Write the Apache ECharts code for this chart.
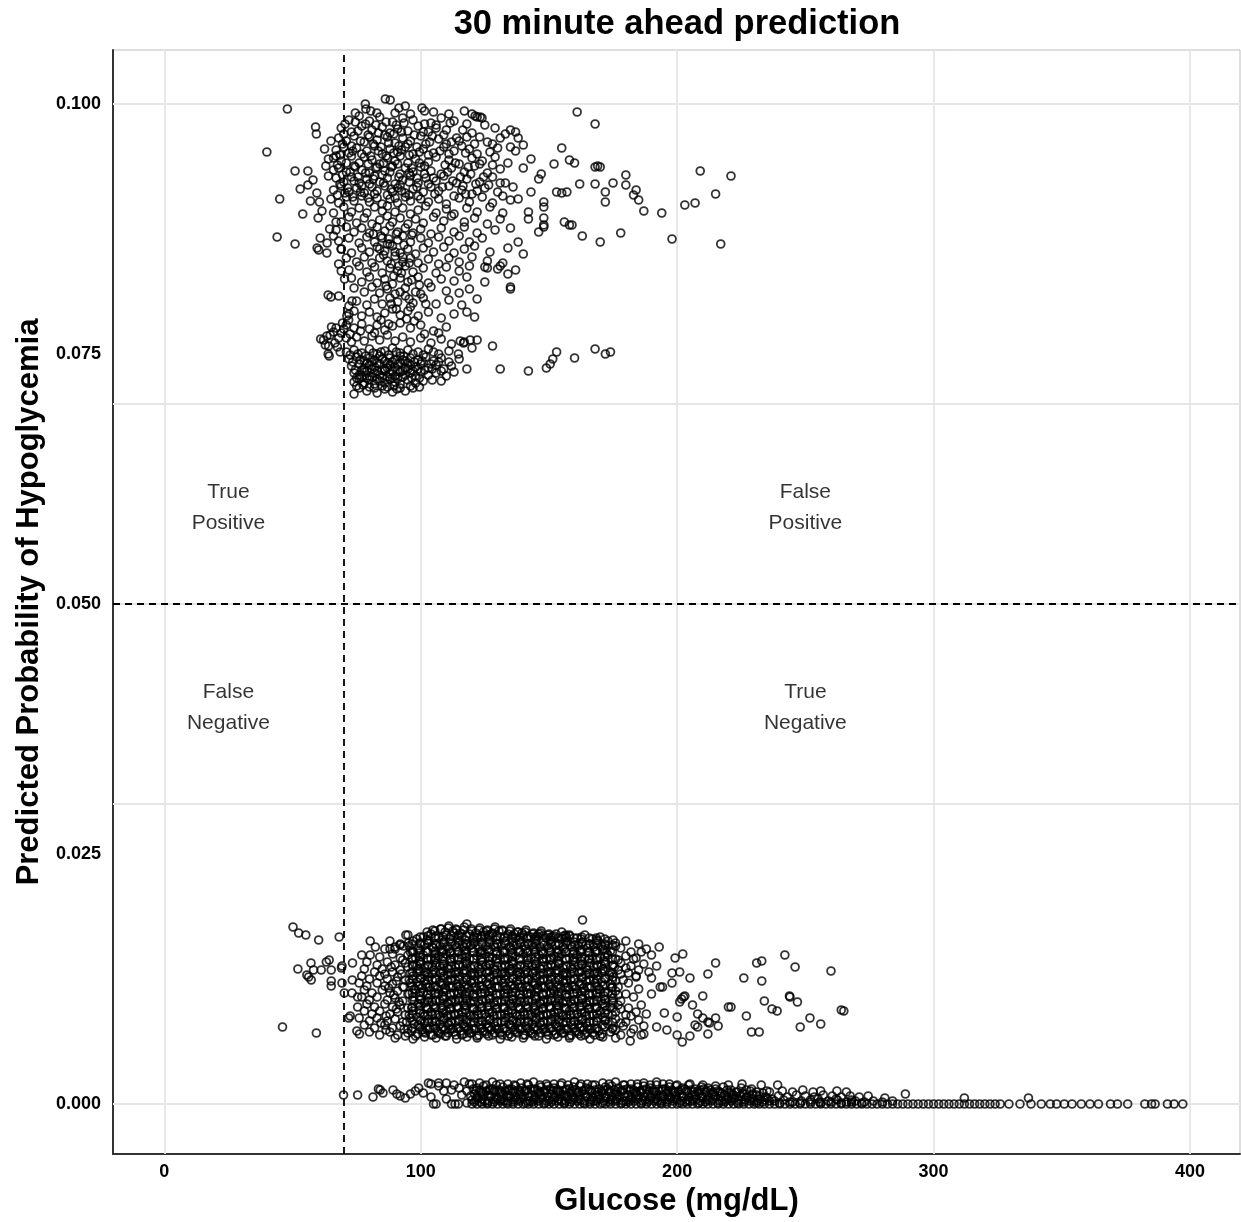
<!DOCTYPE html>
<html>
<head>
<meta charset="utf-8">
<script src="https://cdn.jsdelivr.net/npm/echarts@6/dist/echarts.min.js"></script>
<style>
  html, body { margin: 0; padding: 0; background: #fff; }
  #chart { width: 1241px; height: 1222px; }
</style>
</head>
<body>
<div id="chart"></div>
<script>
// axis ticks and reference lines
const xTicks = [0, 100, 200, 300, 400]
const yTicks = [0, 0.025, 0.05, 0.075, 0.1]
const glucoseCut = 70
const probCut = 0.05

// quadrant captions
const quadText = ['True\nPositive', 'False\nPositive', 'False\nNegative', 'True\nNegative']
const quadX = [25, 250, 25, 250]
const quadY = [0.05965, 0.05965, 0.03965, 0.03965]

// upper cluster (prob ~0.07 - 0.10), [glucose, probability]
const highPoints = [
[40,.0952],[48,.0995],[45,.0905],[44,.0867],[51,.0933],[56,.0933],[51,.0860],[56,.0919],[54,.0890],[59,.0977],[59.3,.0970],[58,.0924],[60,.0886],[60.8,.0866],[59.6,.0856],[63.5,.0861],[57,.0903],[53,.0915],[59.5,.0911],[61.5,.0893],[60.5,.0902],[63.9,.0809],[65,.0807],[63.4,.0851],[60.2,.0854],
[61,.0765],[62.1,.0764],[63.4,.0768],[64.7,.0769],[62.8,.0759],[64.1,.0758],[64.3,.0748],[66,.0772],[67,.0776],[68,.0766],[66.5,.0761],[69,.0771],[65.2,.0777],[67.5,.0757],[68.6,.0752],
[64,.0945],[63,.0938],[62.5,.0955],[65,.0963],[66,.0934],[67,.0948],[64,.0928],[65,.0905],[66,.0891],[64.5,.0875],[66,.0868],[67,.0882],[68,.0840],[69,.0855],[70.3,.0825],[68,.0808],[69,.0833],[71.2,.0788],[71.9,.0784],[73.2,.0803],[70,.0775],[69.5,.0781],[63.9,.0750],
[78.4,.1000],[78.6,.0995],[86.2,.1005],[88.1,.1004],[94,.0998],[100.5,.0996],[101.5,.0993],[82.9,.0991],[90,.0991],
[72,.0984],[76,.0988],[80,.0983],[84,.0987],[89,.0982],[93,.0986],[97,.0984],[104,.0981],[108,.0986],[113,.0983],[120,.0990],[122,.0987],
[69,.0976],[73,.0972],[77,.0978],[81,.0974],[85,.0977],[88,.0971],[91,.0975],[95,.0973],[99,.0978],[103,.0972],[106,.0976],[110,.0974],[116.4,.0974],[125,.0979],[133,.0970],[137,.0972],[168,.0980],[161,.0992],
[68,.0966],[71,.0963],[74,.0968],[78,.0962],[80,.0967],[83,.0964],[86,.0969],[90,.0961],[93,.0966],[96,.0963],[100,.0968],[102,.0960],[107,.0965],[112,.0962],[118,.0967],[121.2,.0988],[123.2,.0987],[123.9,.0986],[128,.0960],[135,.0974],[138,.0966],[140,.0959],
[67,.0954],[70,.0957],[72,.0951],[75,.0956],[79,.0953],[82,.0958],[85,.0950],[88,.0955],[91,.0952],[94,.0957],[97,.0950],[101,.0955],[105,.0951],[109,.0957],[113,.0953],[116,.0958],[119,.0955],[123,.0967],[126,.0962],[130,.0956],[135,.0957],[137,.0953],[155,.0956],
[66,.0946],[69,.0943],[73,.0948],[76,.0941],[78,.0947],[81,.0944],[84,.0940],[87,.0946],[90,.0943],[92,.0948],[95,.0941],[98,.0945],[103,.0942],[106,.0947],[111,.0944],[115,.0940],[120,.0946],[124,.0943],[129,.0947],[134,.0941],[143,.0945],[152,.0940],[158,.0944],[160,.0941],
[68,.0936],[71,.0932],[74,.0938],[77,.0934],[80,.0931],[83,.0937],[86,.0933],[89,.0938],[92,.0930],[94,.0936],[97,.0932],[100,.0937],[104,.0933],[108,.0930],[112,.0936],[117,.0932],[121,.0938],[126,.0931],[131,.0935],[140,.0936],[147,.0930],[168,.0937],[169,.0938],[170,.0937],[209,.0933],
[67,.0926],[70,.0922],[73,.0927],[76,.0921],[79,.0925],[82,.0928],[84,.0922],[87,.0926],[90,.0920],[93,.0924],[96,.0928],[99,.0921],[102,.0926],[106,.0923],[109,.0928],[114,.0921],[118,.0925],[123,.0922],[128,.0927],[133,.0921],[146,.0925],[162,.0920],[168,.0920],[175,.0921],[180,.0929],[221,.0928],
[66,.0914],[69,.0918],[72,.0912],[75,.0916],[78,.0911],[81,.0917],[83,.0913],[86,.0918],[89,.0912],[91,.0916],[94,.0911],[97,.0915],[101,.0912],[104,.0917],[107,.0913],[111,.0918],[116,.0914],[120,.0910],[125,.0916],[130,.0912],[136,.0917],[143,.0912],[153,.0912],[155,.0911],[157,.0912],[172,.0912],[180,.0919],[184,.0914],[183,.0909],[215,.0910],
[68,.0901],[71,.0907],[74,.0903],[77,.0908],[80,.0902],[83,.0906],[85,.0900],[88,.0905],[91,.0901],[94,.0907],[96,.0903],[99,.0908],[103,.0902],[107,.0905],[110,.0900],[115,.0906],[119,.0902],[124,.0907],[128,.0901],[135,.0904],[138,.0905],[148,.0902],[148,.0897],[172,.0902],[185,.0904],[203,.0899],[207,.0901],
[70,.0897],[73,.0892],[76,.0896],[79,.0891],[82,.0897],[85,.0893],[87,.0898],[90,.0892],[93,.0896],[96,.0890],[99,.0894],[102,.0898],[106,.0891],[110,.0895],[113,.0890],[118,.0896],[122,.0892],[127,.0897],[132,.0891],[142,.0892],[187,.0893],[194,.0891],
[69,.0882],[72,.0887],[75,.0881],[78,.0886],[81,.0880],[84,.0884],[87,.0888],[89,.0882],[92,.0886],[95,.0880],[98,.0885],[101,.0881],[105,.0887],[109,.0883],[112,.0888],[117,.0882],[121,.0886],[126,.0880],[131,.0885],[142,.0885],[148,.0886],[156,.0882],[158,.0879],[159,.0879],[148,.0879],
[67,.0874],[71,.0877],[74,.0872],[77,.0876],[80,.0871],[83,.0877],[86,.0873],[88,.0878],[91,.0872],[94,.0876],[97,.0871],[100,.0875],[104,.0870],[108,.0876],[113,.0872],[117,.0877],[122,.0871],[129,.0874],[135,.0876],[146,.0872],[148,.0877],[178,.0871],
[68,.0863],[72,.0866],[76,.0861],[79,.0867],[82,.0862],[85,.0866],[88,.0860],[91,.0864],[93,.0868],[96,.0862],[100,.0866],[103,.0861],[107,.0867],[111,.0863],[115,.0868],[119,.0862],[124,.0866],[138,.0862],[163,.0868],[170,.0862],[198,.0865],[217,.0860],
[69,.0855],[73,.0851],[77,.0856],[80,.0852],[83,.0857],[86,.0853],[89,.0858],[92,.0851],[95,.0855],[98,.0850],[101,.0856],[105,.0852],[109,.0857],[113,.0851],[117,.0855],[121,.0858],[127,.0852],[134,.0856],[140,.0850],
[71,.0846],[75,.0842],[78,.0847],[81,.0841],[84,.0846],[87,.0843],[90,.0848],[93,.0842],[96,.0846],[99,.0841],[103,.0845],[107,.0840],[111,.0846],[115,.0842],[120,.0847],[126,.0843],[132,.0841],
[72,.0834],[76,.0838],[79,.0832],[82,.0837],[85,.0831],[88,.0836],[91,.0833],[94,.0838],[97,.0832],[101,.0836],[106,.0831],[110,.0837],[115,.0833],[119,.0838],[125,.0837],[126,.0836],[130,.0835],[131,.0838],[134,.0830],[137,.0834],
[73,.0826],[77,.0822],[80,.0827],[83,.0821],[86,.0825],[89,.0820],[92,.0826],[95,.0822],[99,.0827],[103,.0821],[108,.0825],[113,.0823],[118,.0827],[125,.0822],
[74,.0816],[78,.0812],[81,.0817],[84,.0811],[87,.0815],[90,.0810],[94,.0816],[98,.0812],[104,.0817],[110,.0813],[115,.0811],[119,.0815],[122,.0805],[135,.0815],[135,.0817],
[72,.0798],[75,.0803],[79,.0799],[82,.0805],[85,.0800],[88,.0806],[91,.0802],[94,.0808],[97,.0801],[101,.0806],[106,.0800],[111,.0804],[116,.0799],[121,.0787],[118,.0792],
[72,.0790],[74,.0793],[77,.0788],[80,.0792],[83,.0787],[86,.0791],[89,.0795],[92,.0789],[95,.0793],[99,.0788],[103,.0792],[108,.0786],[113,.0790],
[71,.0779],[74,.0776],[77,.0780],[80,.0775],[83,.0779],[86,.0774],[89,.0778],[92,.0781],[96,.0776],[100,.0779],[105,.0773],[110,.0777],[115.4,.0763],[116.7,.0761],[119.3,.0764],[122,.0764],[117,.0762],[120,.0756],[128,.0758],
[71,.0766],[73,.0762],[75,.0767],[78,.0763],[81,.0768],[84,.0764],[87,.0769],[90,.0763],[93,.0767],[96,.0762],[100,.0766],[104,.0761],[108,.0765],[112,.0760],
[71,.0752],[74,.0754],[77,.0751],[80,.0755],[83,.0750],[86,.0753],[89,.0756],[92,.0751],[95,.0754],[99,.0752],[103,.0755],[107,.0750],[111,.0753],[114.7,.0750],
[72,.0745],[75,.0747],[78,.0743],[80,.0746],[82,.0744],[84,.0748],[86,.0743],[88,.0746],[90,.0744],[92,.0748],[94,.0743],[96,.0746],[99,.0744],[102,.0747],[105,.0743],[108,.0746],[111,.0742],
[73,.0738],[76,.0740],[78,.0736],[80,.0739],[82,.0737],[84,.0740],[86,.0735],[88,.0739],[90,.0737],[92,.0741],[94,.0736],[96,.0739],[98,.0737],[100,.0740],[103,.0736],[106,.0739],[109,.0735],[112,.0738],[118,.0735],
[74,.0731],[76,.0729],[78,.0732],[80,.0728],[82,.0731],[84,.0729],[86,.0733],[88,.0730],[90,.0728],[92,.0732],[94,.0729],[96,.0731],[98,.0728],[100,.0732],[103,.0729],[106,.0731],[110,.0728],
[74,.0722],[76,.0725],[78,.0721],[80,.0724],[82,.0720],[84,.0723],[86,.0721],[88,.0725],[90,.0722],[92,.0720],[95,.0724],[98,.0721],[101,.0723],
[74,.0710],[76,.0716],[79,.0713],[83,.0711],[86,.0715],[89,.0712],[90.7,.0715],[94,.0713],[97,.0716],
[131,.0735],[142,.0733],[149,.0736],[150.5,.0740],[151.5,.0745],[153,.0752],[160,.0746],[168,.0755],[172,.0750],[174,.0752]
]

// extra points filling the densest parts of the upper cluster
const highDense = [
[74.5,.0991],[80.5,.0993],[91.5,.0996],[96,.0990],[105,.0992],[111,.0990],[117,.0993],
[70.5,.0980],[74.5,.0982],[78.5,.0980],[82.5,.0979],[86.5,.0982],[90.5,.0979],[93.5,.0981],[101.5,.0980],[106,.0979],[111.5,.0981],[118,.0980],[129,.0976],
[70,.0970],[75.5,.0973],[79.5,.0969],[83.5,.0971],[87,.0967],[89.5,.0970],[92.5,.0972],[97.5,.0969],[101,.0972],[104.5,.0968],[109,.0969],[114,.0966],[120,.0971],[131,.0966],
[69.5,.0960],[73,.0958],[76.5,.0963],[81.5,.0960],[84.5,.0957],[87.5,.0961],[91.5,.0958],[95,.0960],[98.5,.0957],[103.5,.0962],[110,.0960],[115,.0963],[121,.0960],
[68.5,.0949],[73.5,.0953],[77,.0950],[80.5,.0948],[83.5,.0953],[86.5,.0948],[89.5,.0951],[92.5,.0954],[95.5,.0949],[99.5,.0952],[103,.0949],[107.5,.0953],[111,.0950],[117.5,.0951],[122,.0950],[127,.0952],
[67.5,.0939],[71,.0941],[74.5,.0937],[79.5,.0940],[82.5,.0936],[85.5,.0941],[88.5,.0937],[91,.0940],[96.5,.0936],[99.5,.0941],[101.5,.0938],[109.5,.0939],[113.5,.0941],[118.5,.0937],[123,.0940],[128,.0939],
[69.5,.0929],[72.5,.0932],[75.5,.0927],[78.5,.0931],[81.5,.0925],[85,.0929],[88,.0932],[91.5,.0927],[95.5,.0931],[98.5,.0926],[101.5,.0930],[105,.0926],[110.5,.0932],[115.5,.0927],[119.5,.0930],[124.5,.0927],
[68.5,.0920],[71.5,.0916],[74,.0923],[77,.0918],[80,.0920],[85.5,.0921],[88.5,.0915],[92,.0919],[95.5,.0922],[98.5,.0917],[103,.0920],[108.5,.0917],[112.5,.0923],[116.5,.0918],[121.5,.0920],[126.5,.0919],[131,.0921],
[67.5,.0909],[70.5,.0911],[73.5,.0907],[76.5,.0912],[79.5,.0906],[82,.0910],[87,.0909],[90,.0906],[92.5,.0913],[95.5,.0909],[100,.0905],[105.5,.0910],[113,.0908],[117.5,.0910],[122,.0913],[132,.0908],
[81.5,.0870],[84.5,.0868],[87.5,.0865],[90.5,.0870],[93.5,.0859],[96.5,.0869],[84,.0855],[87,.0860],[90,.0852],[93,.0847],[85.5,.0849],[88.5,.0840],[91.5,.0838],[95.5,.0841],[89.5,.0828],[92.5,.0831],[96.5,.0824],[99.5,.0819],[86.5,.0818],[92,.0812],[95.5,.0805],[100,.0810],[88.5,.0800],[90.5,.0795],[96,.0797],[102,.0800],[84.5,.0784],[87.5,.0780],[94.5,.0785],[97.5,.0783],[101.5,.0770],[107,.0771],[82,.0771],[76.5,.0773],[72.5,.0770],
[72.5,.0749],[75.5,.0750],[78.5,.0748],[81.5,.0751],[84.5,.0752],[87.5,.0749],[90.5,.0752],[93.5,.0748],[97,.0750],[101,.0749],[105,.0752],
[73.5,.0742],[76.5,.0744],[79,.0741],[81,.0742],[83,.0741],[85,.0745],[87,.0741],[89,.0742],[91,.0740],[93,.0744],[95,.0741],[97.5,.0742],[100.5,.0743],[104,.0740],[107,.0742],[115,.0745],
[74.5,.0734],[77,.0734],[79,.0733],[81,.0735],[83,.0733],[85,.0734],[87,.0736],[89,.0733],[91,.0734],[93,.0733],[95,.0735],[97,.0733],[99,.0735],[101.5,.0734],[104.5,.0735],[108,.0733],[113,.0732],
[75,.0726],[77,.0727],[79,.0726],[81,.0727],[83,.0725],[85,.0726],[87,.0727],[89,.0726],[91,.0725],[93,.0727],[96.5,.0726],[99.5,.0726],[104.5,.0724],[108,.0723],
[75,.0718],[77.5,.0719],[80,.0717],[82,.0716],[85,.0718],[87,.0717],[89.5,.0718],[92,.0716],[96,.0718],[99.5,.0717]
]

// middle cluster (prob ~0.006 - 0.018)
const midPoints = [
[50.2,.0177],[52.4,.0171],[55.2,.0169],[60.2,.0164],[68.2,.0167],[52.1,.0135],[55.6,.0129],[56.3,.0127],[57.3,.0124],[58.2,.0134],[61.2,.0134],[57.2,.0141],[63.2,.0142],[64.3,.0144],[65.1,.0134],[65.1,.0123],[65.1,.0118],[46.1,.0077],[59.3,.0071],[69.3,.0138],[69.1,.0136],[69.3,.0121],[70.2,.0111],
[73.4,.0141],[73.3,.0124],[73.2,.0111],[75.4,.0107],[75.4,.0097],[72.5,.0088],[71.9,.0086],[75.1,.0073],[76.1,.0070],[80.3,.0163],[82.3,.0157],[77,.0149],[80.3,.0149],[94.2,.0169],[86,.0155],[88,.0155],[90,.0155],[92,.0159],[93.3,.0158],[95.2,.0161],
[108,.0175],[111,.0178],[114,.0174],[117,.0177],[120,.0173],[123,.0176],[126,.0174],[129,.0177],[132,.0173],[135,.0175],[138,.0172],[141,.0174],[144,.0171],[147,.0173],[150,.0170],[155,.0172],[158,.0169],[163.1,.0184],[118,.0180],
[95,.0169],[101,.0167],[104,.0170],[107,.0166],[110,.0169],[113,.0171],[116,.0167],[119,.0170],[122,.0166],[125,.0169],[128,.0171],[131,.0167],[134,.0170],[137,.0166],[140,.0169],[143,.0167],[146,.0170],[149,.0166],[152,.0168],[155,.0165],[158,.0168],[161,.0166],[164,.0169],[167,.0165],[170,.0167],[175,.0164],
[88,.0163],[92,.0160],[97,.0163],[100,.0160],[103,.0163],[106,.0159],[109,.0162],[112,.0160],[115,.0163],[118,.0159],[121,.0162],[124,.0160],[127,.0164],[130,.0160],[133,.0163],[136,.0159],[139,.0162],[142,.0160],[145,.0163],[148,.0159],[151,.0162],[154,.0160],[157,.0163],[160,.0159],[163,.0162],[166,.0160],[169,.0163],[172,.0159],[176,.0161],[180,.0163],[185,.0160],
[97,.0152],[99,.0156],[102,.0153],[105,.0156],[108,.0152],[111,.0155],[114,.0157],[117,.0153],[120,.0156],[123,.0152],[126,.0155],[129,.0157],[132,.0153],[135,.0156],[138,.0152],[141,.0155],[144,.0157],[147,.0153],[150,.0156],[153,.0152],[156,.0155],[159,.0157],[162,.0153],[165,.0156],[168,.0152],[171,.0155],[174,.0153],[178,.0156],[182,.0152],[188,.0155],[193,.0157],
[84,.0147],[89,.0150],[92,.0146],[95,.0149],[98,.0146],[101,.0149],[104,.0145],[107,.0148],[110,.0150],[113,.0146],[116,.0149],[119,.0145],[122,.0148],[125,.0150],[128,.0146],[131,.0149],[134,.0145],[137,.0148],[140,.0150],[143,.0146],[146,.0149],[149,.0145],[152,.0148],[155,.0150],[158,.0146],[161,.0149],[164,.0145],[167,.0148],[170,.0146],[173,.0149],[176,.0145],[180,.0148],[184,.0146],[190,.0149],[199.2,.0146],[202.2,.0150],[242,.0149],
[79,.0142],[83,.0139],[87,.0142],[90,.0139],[94,.0141],[97,.0138],[100,.0142],[103,.0139],[106,.0141],[109,.0138],[112,.0142],[115,.0139],[118,.0141],[121,.0138],[124,.0142],[127,.0139],[130,.0141],[133,.0138],[136,.0142],[139,.0139],[142,.0141],[145,.0138],[148,.0142],[151,.0139],[154,.0141],[157,.0138],[160,.0142],[163,.0139],[166,.0141],[169,.0138],[172,.0142],[175,.0139],[178,.0141],[182,.0138],[187,.0140],[192,.0138],[215,.0141],[231,.0141],[233,.0143],
[78,.0135],[82,.0132],[85,.0135],[89,.0132],[92,.0134],[96,.0131],[99,.0135],[102,.0132],[105,.0134],[108,.0131],[111,.0135],[114,.0132],[117,.0134],[120,.0131],[123,.0135],[126,.0132],[129,.0134],[132,.0131],[135,.0135],[138,.0132],[141,.0134],[144,.0131],[147,.0135],[150,.0132],[153,.0134],[156,.0131],[159,.0135],[162,.0132],[165,.0134],[168,.0131],[171,.0135],[174,.0132],[177,.0134],[181,.0131],[185,.0134],[189,.0132],[198,.0131],[201,.0132],[246,.0137],[260,.0133],
[77,.0128],[80,.0125],[84,.0128],[87,.0125],[91,.0127],[94,.0124],[97,.0128],[100,.0125],[103,.0127],[106,.0124],[109,.0128],[112,.0125],[115,.0127],[118,.0124],[121,.0128],[124,.0125],[127,.0127],[130,.0124],[133,.0128],[136,.0125],[139,.0127],[142,.0124],[145,.0128],[148,.0125],[151,.0127],[154,.0124],[157,.0128],[160,.0125],[163,.0127],[166,.0124],[169,.0128],[172,.0125],[175,.0127],[179,.0124],[184,.0128],[184,.0127],[190,.0126],[205,.0126],[212,.0130],[226,.0126],
[76,.0121],[79,.0118],[83,.0121],[86,.0118],[89,.0120],[93,.0117],[96,.0121],[99,.0118],[102,.0120],[105,.0117],[108,.0121],[111,.0118],[114,.0120],[117,.0117],[120,.0121],[123,.0118],[126,.0120],[129,.0117],[132,.0121],[135,.0118],[138,.0120],[141,.0117],[144,.0121],[147,.0118],[150,.0120],[153,.0117],[156,.0121],[159,.0118],[162,.0120],[165,.0117],[168,.0121],[171,.0118],[174,.0120],[177,.0117],[181,.0121],[185,.0115],[193.4,.0117],[194.3,.0117],[198,.0121],[233,.0123],
[78,.0114],[81,.0111],[85,.0114],[88,.0111],[91,.0113],[95,.0110],[98,.0114],[101,.0111],[104,.0113],[107,.0110],[110,.0114],[113,.0111],[116,.0113],[119,.0110],[122,.0114],[125,.0111],[128,.0113],[131,.0110],[134,.0114],[137,.0111],[140,.0113],[143,.0110],[146,.0114],[149,.0111],[152,.0113],[155,.0110],[158,.0114],[161,.0111],[164,.0113],[167,.0110],[170,.0114],[173,.0111],[176,.0113],[180,.0110],[190,.0110],
[77,.0107],[80,.0104],[83,.0107],[87,.0104],[90,.0106],[93,.0103],[97,.0107],[100,.0104],[103,.0106],[106,.0103],[109,.0107],[112,.0104],[115,.0106],[118,.0103],[121,.0107],[124,.0104],[127,.0106],[130,.0103],[133,.0107],[136,.0104],[139,.0106],[142,.0103],[145,.0107],[148,.0104],[151,.0106],[154,.0103],[157,.0107],[160,.0104],[163,.0106],[166,.0103],[169,.0107],[172,.0104],[175,.0106],[178,.0103],[183,.0107],[202.5,.0107],[203,.0108],[201.7,.0105],[210,.0108],[243.8,.0108],[244,.0107],[246.9,.0102],[234,.0103],
[79,.0100],[82,.0097],[86,.0100],[89,.0097],[92,.0099],[95,.0096],[99,.0100],[102,.0097],[105,.0099],[108,.0096],[111,.0100],[114,.0097],[117,.0099],[120,.0096],[123,.0100],[126,.0097],[129,.0099],[132,.0096],[135,.0100],[138,.0097],[141,.0099],[144,.0096],[147,.0100],[150,.0097],[153,.0099],[156,.0096],[159,.0100],[162,.0097],[165,.0099],[168,.0096],[171,.0100],[174,.0097],[177,.0099],[181,.0096],[186,.0099],[201,.0102],[206,.0099],[220,.0097],[221,.0097],
[78,.0093],[81,.0090],[84,.0093],[88,.0090],[91,.0092],[94,.0089],[97,.0093],[101,.0090],[104,.0092],[107,.0089],[110,.0093],[113,.0090],[116,.0092],[119,.0089],[122,.0093],[125,.0090],[128,.0092],[131,.0089],[134,.0093],[137,.0090],[140,.0092],[143,.0089],[146,.0093],[149,.0090],[152,.0092],[155,.0089],[158,.0093],[161,.0090],[164,.0092],[167,.0089],[170,.0093],[173,.0090],[176,.0092],[180,.0089],[184,.0092],[188,.0090],[195,.0091],[208,.0090],[237,.0095],[239,.0093],[264,.0094],[265,.0093],
[76,.0086],[80,.0083],[83,.0086],[87,.0083],[90,.0085],[93,.0082],[96,.0086],[100,.0083],[103,.0085],[106,.0082],[109,.0086],[112,.0083],[115,.0085],[118,.0082],[121,.0086],[124,.0083],[127,.0085],[130,.0082],[133,.0086],[136,.0083],[139,.0085],[142,.0082],[145,.0086],[148,.0083],[151,.0085],[154,.0082],[157,.0086],[160,.0083],[163,.0085],[166,.0082],[169,.0086],[172,.0083],[176,.0085],[180,.0082],[185,.0084],[200,.0087],[210,.0086],[215,.0086],[227,.0088],[251.8,.0086],[212,.0082],[212.6,.0081],
[78,.0079],[82,.0076],[86,.0079],[89,.0076],[92,.0078],[95,.0075],[99,.0079],[102,.0076],[105,.0078],[108,.0075],[111,.0079],[114,.0076],[117,.0078],[120,.0075],[123,.0079],[126,.0076],[129,.0078],[132,.0075],[135,.0079],[138,.0076],[141,.0078],[144,.0075],[147,.0079],[150,.0076],[153,.0078],[156,.0075],[159,.0079],[162,.0076],[165,.0078],[168,.0075],[171,.0079],[175,.0076],[179,.0078],[183,.0075],[187,.0078],[192,.0077],[207,.0079],[208,.0077],[216,.0078],[256,.0080],[248,.0077],
[80,.0072],[84,.0069],[88,.0072],[91,.0069],[95,.0071],[98,.0068],[101,.0072],[104,.0069],[107,.0071],[110,.0068],[113,.0072],[116,.0069],[119,.0071],[122,.0068],[125,.0072],[128,.0069],[131,.0071],[134,.0068],[137,.0072],[140,.0069],[143,.0071],[146,.0068],[149,.0072],[152,.0069],[155,.0071],[158,.0068],[161,.0072],[164,.0069],[167,.0071],[170,.0068],[174,.0072],[178,.0069],[182,.0071],[187,.0070],[196,.0074],[200,.0069],[205,.0068],[212,.0070],[229,.0072],[232,.0072],
[90,.0066],[97,.0065],[106,.0066],[114,.0065],[122,.0066],[131,.0065],[140,.0066],[149,.0065],[158,.0066],[166,.0065],[176,.0066],[181.7,.0063],[202,.0062]
]

// extra points filling the solid core of the middle cluster
const midDense = [
[102.5,.0172],[105.5,.0173],[109.5,.0172],[112.5,.0173],[115.5,.0171],[121.5,.0171],[124.5,.0172],[127.5,.0170],[130.5,.0173],[136.5,.0170],[139.5,.0171],[145.5,.0168],[151.5,.0167],[156.5,.0169],
[98.5,.0165],[102.5,.0164],[105.5,.0166],[108.5,.0164],[111.5,.0165],[114.5,.0166],[117.5,.0164],[120.5,.0165],[123.5,.0166],[126.5,.0167],[129.5,.0164],[132.5,.0166],[135.5,.0165],[138.5,.0164],[141.5,.0166],[144.5,.0165],[150.5,.0164],[156.5,.0166],[162.5,.0165],[168.5,.0166],[173,.0163],
[90,.0157],[95.5,.0158],[101.5,.0159],[104.5,.0157],[107.5,.0158],[110.5,.0157],[113.5,.0159],[116.5,.0158],[119.5,.0159],[122.5,.0157],[125.5,.0158],[128.5,.0159],[131.5,.0158],[134.5,.0157],[137.5,.0159],[140.5,.0158],[143.5,.0159],[146.5,.0157],[149.5,.0158],[152.5,.0159],[155.5,.0157],[158.5,.0159],[161.5,.0158],[164.5,.0159],[167.5,.0157],[170.5,.0158],[176,.0158],
[96,.0152],[99.5,.0151],[102.5,.0152],[105.5,.0150],[108.5,.0152],[111.5,.0151],[114.5,.0152],[117.5,.0150],[120.5,.0152],[123.5,.0151],[126.5,.0152],[129.5,.0150],[132.5,.0152],[135.5,.0151],[138.5,.0153],[141.5,.0151],[144.5,.0152],[147.5,.0150],[150.5,.0152],[153.5,.0151],[156.5,.0152],[159.5,.0150],[162.5,.0152],[165.5,.0151],[168.5,.0153],[172.5,.0151],[186,.0152],
[93,.0144],[96.5,.0145],[99.5,.0143],[102.5,.0145],[105.5,.0144],[108.5,.0143],[111.5,.0145],[114.5,.0144],[117.5,.0143],[120.5,.0145],[123.5,.0144],[126.5,.0143],[129.5,.0145],[132.5,.0144],[135.5,.0143],[138.5,.0145],[141.5,.0144],[144.5,.0143],[147.5,.0145],[150.5,.0144],[153.5,.0143],[156.5,.0145],[159.5,.0144],[162.5,.0143],[165.5,.0145],[168.5,.0144],[171.5,.0143],[177,.0144],[183,.0145],
[88.5,.0137],[95,.0137],[98.5,.0138],[101.5,.0136],[104.5,.0137],[107.5,.0138],[110.5,.0136],[113.5,.0137],[116.5,.0138],[119.5,.0136],[122.5,.0137],[125.5,.0138],[128.5,.0136],[131.5,.0137],[134.5,.0138],[137.5,.0136],[140.5,.0137],[143.5,.0138],[146.5,.0136],[149.5,.0137],[152.5,.0138],[155.5,.0136],[158.5,.0137],[161.5,.0138],[164.5,.0136],[167.5,.0137],[170.5,.0138],[175.5,.0137],[180,.0136],
[86,.0130],[92.5,.0130],[98.5,.0131],[101.5,.0129],[104.5,.0130],[107.5,.0131],[110.5,.0129],[113.5,.0130],[116.5,.0131],[119.5,.0129],[122.5,.0130],[125.5,.0131],[128.5,.0129],[131.5,.0130],[134.5,.0131],[137.5,.0129],[140.5,.0130],[143.5,.0131],[146.5,.0129],[149.5,.0130],[152.5,.0131],[155.5,.0129],[158.5,.0130],[161.5,.0131],[164.5,.0129],[167.5,.0130],[170.5,.0131],[173.5,.0129],[178,.0130],
[90.5,.0123],[95.5,.0124],[98.5,.0122],[101.5,.0123],[104.5,.0124],[107.5,.0122],[110.5,.0123],[113.5,.0124],[116.5,.0122],[119.5,.0123],[122.5,.0124],[125.5,.0122],[128.5,.0123],[131.5,.0124],[134.5,.0122],[137.5,.0123],[140.5,.0124],[143.5,.0122],[146.5,.0123],[149.5,.0124],[152.5,.0122],[155.5,.0123],[158.5,.0124],[161.5,.0122],[164.5,.0123],[167.5,.0124],[170.5,.0122],[176,.0123],
[87.5,.0116],[93.5,.0117],[97.5,.0115],[100.5,.0116],[103.5,.0117],[106.5,.0115],[109.5,.0116],[112.5,.0117],[115.5,.0115],[118.5,.0116],[121.5,.0117],[124.5,.0115],[127.5,.0116],[130.5,.0117],[133.5,.0115],[136.5,.0116],[139.5,.0117],[142.5,.0115],[145.5,.0116],[148.5,.0117],[151.5,.0115],[154.5,.0116],[157.5,.0117],[160.5,.0115],[163.5,.0116],[166.5,.0117],[169.5,.0115],[174.5,.0116],
[89.5,.0109],[95.5,.0110],[99.5,.0108],[102.5,.0109],[105.5,.0110],[108.5,.0108],[111.5,.0109],[114.5,.0110],[117.5,.0108],[120.5,.0109],[123.5,.0110],[126.5,.0108],[129.5,.0109],[132.5,.0110],[135.5,.0108],[138.5,.0109],[141.5,.0110],[144.5,.0108],[147.5,.0109],[150.5,.0110],[153.5,.0108],[156.5,.0109],[159.5,.0110],[162.5,.0108],[165.5,.0109],[168.5,.0110],[171.5,.0108],[177,.0109],
[91.5,.0102],[97.5,.0103],[101.5,.0101],[104.5,.0102],[107.5,.0103],[110.5,.0101],[113.5,.0102],[116.5,.0103],[119.5,.0101],[122.5,.0102],[125.5,.0103],[128.5,.0101],[131.5,.0102],[134.5,.0103],[137.5,.0101],[140.5,.0102],[143.5,.0103],[146.5,.0101],[149.5,.0102],[152.5,.0103],[155.5,.0101],[158.5,.0102],[161.5,.0103],[164.5,.0101],[167.5,.0102],[170.5,.0103],[175,.0101],
[90.5,.0095],[96.5,.0096],[99.5,.0094],[102.5,.0095],[105.5,.0096],[108.5,.0094],[111.5,.0095],[114.5,.0096],[117.5,.0094],[120.5,.0095],[123.5,.0096],[126.5,.0094],[129.5,.0095],[132.5,.0096],[135.5,.0094],[138.5,.0095],[141.5,.0096],[144.5,.0094],[147.5,.0095],[150.5,.0096],[153.5,.0094],[156.5,.0095],[159.5,.0096],[162.5,.0094],[165.5,.0095],[168.5,.0096],[172.5,.0094],[178,.0095],
[86.5,.0088],[95.5,.0089],[98.5,.0087],[101.5,.0088],[104.5,.0089],[107.5,.0087],[110.5,.0088],[113.5,.0089],[116.5,.0087],[119.5,.0088],[122.5,.0089],[125.5,.0087],[128.5,.0088],[131.5,.0089],[134.5,.0087],[137.5,.0088],[140.5,.0089],[143.5,.0087],[146.5,.0088],[149.5,.0089],[152.5,.0087],[155.5,.0088],[158.5,.0089],[161.5,.0087],[164.5,.0088],[167.5,.0089],[171,.0087],[182,.0088],
[84.5,.0081],[94.5,.0082],[97.5,.0080],[101.5,.0081],[104.5,.0082],[107.5,.0080],[110.5,.0081],[113.5,.0082],[116.5,.0080],[119.5,.0081],[122.5,.0082],[125.5,.0080],[128.5,.0081],[131.5,.0082],[134.5,.0080],[137.5,.0081],[140.5,.0082],[143.5,.0080],[146.5,.0081],[149.5,.0082],[152.5,.0080],[155.5,.0081],[158.5,.0082],[161.5,.0080],[164.5,.0081],[167.5,.0082],[173,.0080],[178,.0081],
[86.5,.0074],[93.5,.0075],[96.5,.0073],[100.5,.0074],[103.5,.0075],[106.5,.0073],[109.5,.0074],[112.5,.0075],[115.5,.0073],[118.5,.0074],[121.5,.0075],[124.5,.0073],[127.5,.0074],[130.5,.0075],[133.5,.0073],[136.5,.0074],[139.5,.0075],[142.5,.0073],[145.5,.0074],[148.5,.0075],[151.5,.0073],[154.5,.0074],[157.5,.0075],[160.5,.0073],[163.5,.0074],[166.5,.0075],[169.5,.0073],[176,.0074],
[94,.0068],[101.5,.0067],[109.5,.0068],[118,.0067],[126.5,.0068],[135.5,.0067],[144.5,.0068],[153.5,.0067],[162.5,.0068],[171,.0067],[186,.0069]
]

// third layer for the blackest part of the middle cluster
const midSolid = [
[104.75,.0174],[107.75,.0175],[110.75,.0176],[113.75,.0175],[116.75,.0174],[119.75,.0175],[122.75,.0174],[125.75,.0173],[128.75,.0175],[131.75,.0174],[134.75,.0173],[137.75,.0172],[140.75,.0172],[143.75,.0170],[146.75,.0171],[149.75,.0169],[152.75,.0170],[155.75,.0168],
[99.75,.0167],[102.75,.0168],[105.75,.0168],[108.75,.0167],[111.75,.0168],[114.75,.0169],[117.75,.0168],[120.75,.0167],[123.75,.0168],[126.75,.0169],[129.75,.0168],[132.75,.0167],[135.75,.0168],[138.75,.0167],[141.75,.0168],[144.75,.0167],[147.75,.0168],[150.75,.0167],[153.75,.0166],[156.75,.0167],[159.75,.0166],[162.75,.0167],[165.75,.0166],[168.75,.0164],[171.75,.0165],
[96.75,.0160],[99.75,.0161],[102.75,.0161],[105.75,.0160],[108.75,.0161],[111.75,.0162],[114.75,.0161],[117.75,.0160],[120.75,.0161],[123.75,.0162],[126.75,.0161],[129.75,.0160],[132.75,.0161],[135.75,.0162],[138.75,.0161],[141.75,.0160],[144.75,.0161],[147.75,.0162],[150.75,.0161],[153.75,.0160],[156.75,.0161],[159.75,.0162],[162.75,.0161],[165.75,.0160],[168.75,.0161],[171.75,.0160],[174.75,.0159],
[96.75,.0153],[99.75,.0154],[102.75,.0152],[105.75,.0153],[108.75,.0154],[111.75,.0152],[114.75,.0153],[117.75,.0154],[120.75,.0152],[123.75,.0153],[126.75,.0154],[129.75,.0152],[132.75,.0153],[135.75,.0154],[138.75,.0152],[141.75,.0153],[144.75,.0154],[147.75,.0152],[150.75,.0153],[153.75,.0154],[156.75,.0152],[159.75,.0153],[162.75,.0154],[165.75,.0152],[168.75,.0153],[171.75,.0154],[174.75,.0152],
[96.75,.0146],[99.75,.0147],[102.75,.0145],[105.75,.0146],[108.75,.0147],[111.75,.0145],[114.75,.0146],[117.75,.0147],[120.75,.0145],[123.75,.0146],[126.75,.0147],[129.75,.0145],[132.75,.0146],[135.75,.0147],[138.75,.0145],[141.75,.0146],[144.75,.0147],[147.75,.0145],[150.75,.0146],[153.75,.0147],[156.75,.0145],[159.75,.0146],[162.75,.0147],[165.75,.0145],[168.75,.0146],[171.75,.0147],[174.75,.0145],
[96.75,.0139],[99.75,.0140],[102.75,.0138],[105.75,.0139],[108.75,.0140],[111.75,.0138],[114.75,.0139],[117.75,.0140],[120.75,.0138],[123.75,.0139],[126.75,.0140],[129.75,.0138],[132.75,.0139],[135.75,.0140],[138.75,.0138],[141.75,.0139],[144.75,.0140],[147.75,.0138],[150.75,.0139],[153.75,.0140],[156.75,.0138],[159.75,.0139],[162.75,.0140],[165.75,.0138],[168.75,.0139],[171.75,.0140],[174.75,.0138],
[96.75,.0132],[99.75,.0133],[102.75,.0131],[105.75,.0132],[108.75,.0133],[111.75,.0131],[114.75,.0132],[117.75,.0133],[120.75,.0131],[123.75,.0132],[126.75,.0133],[129.75,.0131],[132.75,.0132],[135.75,.0133],[138.75,.0131],[141.75,.0132],[144.75,.0133],[147.75,.0131],[150.75,.0132],[153.75,.0133],[156.75,.0131],[159.75,.0132],[162.75,.0133],[165.75,.0131],[168.75,.0132],[171.75,.0133],[174.75,.0131],
[96.75,.0125],[99.75,.0126],[102.75,.0124],[105.75,.0125],[108.75,.0126],[111.75,.0124],[114.75,.0125],[117.75,.0126],[120.75,.0124],[123.75,.0125],[126.75,.0126],[129.75,.0124],[132.75,.0125],[135.75,.0126],[138.75,.0124],[141.75,.0125],[144.75,.0126],[147.75,.0124],[150.75,.0125],[153.75,.0126],[156.75,.0124],[159.75,.0125],[162.75,.0126],[165.75,.0124],[168.75,.0125],[171.75,.0126],[174.75,.0124],
[96.75,.0118],[99.75,.0119],[102.75,.0117],[105.75,.0118],[108.75,.0119],[111.75,.0117],[114.75,.0118],[117.75,.0119],[120.75,.0117],[123.75,.0118],[126.75,.0119],[129.75,.0117],[132.75,.0118],[135.75,.0119],[138.75,.0117],[141.75,.0118],[144.75,.0119],[147.75,.0117],[150.75,.0118],[153.75,.0119],[156.75,.0117],[159.75,.0118],[162.75,.0119],[165.75,.0117],[168.75,.0118],[171.75,.0119],[174.75,.0117],
[96.75,.0111],[99.75,.0112],[102.75,.0110],[105.75,.0111],[108.75,.0112],[111.75,.0110],[114.75,.0111],[117.75,.0112],[120.75,.0110],[123.75,.0111],[126.75,.0112],[129.75,.0110],[132.75,.0111],[135.75,.0112],[138.75,.0110],[141.75,.0111],[144.75,.0112],[147.75,.0110],[150.75,.0111],[153.75,.0112],[156.75,.0110],[159.75,.0111],[162.75,.0112],[165.75,.0110],[168.75,.0111],[171.75,.0112],[174.75,.0110],
[96.75,.0104],[99.75,.0105],[102.75,.0103],[105.75,.0104],[108.75,.0105],[111.75,.0103],[114.75,.0104],[117.75,.0105],[120.75,.0103],[123.75,.0104],[126.75,.0105],[129.75,.0103],[132.75,.0104],[135.75,.0105],[138.75,.0103],[141.75,.0104],[144.75,.0105],[147.75,.0103],[150.75,.0104],[153.75,.0105],[156.75,.0103],[159.75,.0104],[162.75,.0105],[165.75,.0103],[168.75,.0104],[171.75,.0105],[174.75,.0103],
[96.75,.0097],[99.75,.0098],[102.75,.0096],[105.75,.0097],[108.75,.0098],[111.75,.0096],[114.75,.0097],[117.75,.0098],[120.75,.0096],[123.75,.0097],[126.75,.0098],[129.75,.0096],[132.75,.0097],[135.75,.0098],[138.75,.0096],[141.75,.0097],[144.75,.0098],[147.75,.0096],[150.75,.0097],[153.75,.0098],[156.75,.0096],[159.75,.0097],[162.75,.0098],[165.75,.0096],[168.75,.0097],[171.75,.0098],[174.75,.0096],
[96.75,.0090],[99.75,.0091],[102.75,.0089],[105.75,.0090],[108.75,.0091],[111.75,.0089],[114.75,.0090],[117.75,.0091],[120.75,.0089],[123.75,.0090],[126.75,.0091],[129.75,.0089],[132.75,.0090],[135.75,.0091],[138.75,.0089],[141.75,.0090],[144.75,.0091],[147.75,.0089],[150.75,.0090],[153.75,.0091],[156.75,.0089],[159.75,.0090],[162.75,.0091],[165.75,.0089],[168.75,.0090],[171.75,.0091],[174.75,.0089],
[96.75,.0083],[99.75,.0084],[102.75,.0082],[105.75,.0083],[108.75,.0084],[111.75,.0082],[114.75,.0083],[117.75,.0084],[120.75,.0082],[123.75,.0083],[126.75,.0084],[129.75,.0082],[132.75,.0083],[135.75,.0084],[138.75,.0082],[141.75,.0083],[144.75,.0084],[147.75,.0082],[150.75,.0083],[153.75,.0084],[156.75,.0082],[159.75,.0083],[162.75,.0084],[165.75,.0082],[168.75,.0083],[171.75,.0084],[174.75,.0082],
[96.75,.0076],[99.75,.0077],[102.75,.0075],[105.75,.0076],[108.75,.0077],[111.75,.0075],[114.75,.0076],[117.75,.0077],[120.75,.0075],[123.75,.0076],[126.75,.0077],[129.75,.0075],[132.75,.0076],[135.75,.0077],[138.75,.0075],[141.75,.0076],[144.75,.0077],[147.75,.0075],[150.75,.0076],[153.75,.0077],[156.75,.0075],[159.75,.0076],[162.75,.0077],[165.75,.0075],[168.75,.0076],[171.75,.0077],[174.75,.0075],
[98.75,.0070],[101.75,.0071],[104.75,.0069],[107.75,.0070],[110.75,.0071],[113.75,.0069],[116.75,.0070],[119.75,.0071],[122.75,.0069],[125.75,.0070],[128.75,.0071],[131.75,.0069],[134.75,.0070],[137.75,.0071],[140.75,.0069],[143.75,.0070],[146.75,.0071],[149.75,.0069],[152.75,.0070],[155.75,.0071],[158.75,.0069],[161.75,.0070],[164.75,.0071],[167.75,.0069],[170.75,.0070]
]

// bottom band (prob ~0 - 0.002)
const lowPoints = [
[69.9,.0009],[75.4,.0009],[81.4,.0007],[83.5,.0015],[84.2,.0014],[85.3,.0011],[89.2,.0014],[90.7,.0010],[92,.0008],[94,.0006],[96,.0010],[97.9,.0013],[99.2,.0016],[103,.0021],[101,.0011],[104,.0007],[107,.0018],[109,.0013],[110,.0005],[115,.0016],[116,.0009],[119,.0020],
[105,0],[106,0],[112,0],[113.4,0],[114.7,0],[118,.0001],
[120,0],[122,0],[124,0],[126,0],[128,0],[130,0],[132,0],[134,0],[136,0],[138,0],[140,0],[142,0],[144,0],[146,0],[148,0],[150,0],[152,0],[154,0],[156,0],[158,0],[160,0],[162,0],[164,0],[166,0],[168,0],[170,0],[172,0],[174,0],[176,0],[178,0],[180,0],[182,0],[184,0],[186,0],[188,0],[190,0],[192,0],[194,0],[196,0],[198,0],[200,0],[202,0],[204,0],[206,0],[208,0],[210,0],[212,0],[214,0],[216,0],[218,0],[220,0],[222,0],[224,0],[226,0],[228,0],[230,0],[232,0],[234,0],[236,0],[238,0],[240,0],[242,0],[244,0],[246,0],[248,0],[250,0],[252,0],[254,0],[256,0],[258,0],[260,0],[262,0],[264,0],[266,0],[268,0],[270,0],[272,0],[274,0],[276,0],[278,0],[280,0],[282,0],[284,0],[286,0],[288,0],[290,0],[292,0],[294,0],[296,0],[298,0],[300,0],[302,0],[304,0],[306,0],[308,0],[310,0],[312,0],[314,0],[316,0],[318,0],[320,0],[322,0],[324,0],[326,0],
[329.4,0],[333.7,0],[338,0],[342,0],[345.5,0],[348,0],[351,0],[354,0],[357.6,0],[361,0],[364.3,0],[369,0],[371.7,0],[375.7,0],[382.4,0],[385,0],[386.4,0],[391.2,0],[393.8,0],[397.2,0],
[120,.0004],[122.5,.0006],[125,.0003],[127.5,.0007],[130,.0005],[132.5,.0003],[135,.0006],[137.5,.0004],[140,.0007],[142.5,.0003],[145,.0005],[147.5,.0006],[150,.0004],[152.5,.0007],[155,.0003],[157.5,.0005],[160,.0006],[162.5,.0004],[165,.0007],[167.5,.0003],[170,.0005],[172.5,.0006],[175,.0004],[177.5,.0007],[180,.0003],[182.5,.0005],[185,.0006],[187.5,.0004],[190,.0007],[192.5,.0003],[195,.0005],[197.5,.0006],[200,.0004],[202.5,.0007],[205,.0003],[207.5,.0005],[210,.0006],[212.5,.0004],[215,.0007],[217.5,.0003],[220,.0005],[222.5,.0006],[225,.0004],[227.5,.0007],[230,.0003],[232.5,.0005],[235,.0006],
[121,.0010],[123.5,.0012],[126,.0009],[128.5,.0013],[131,.0011],[133.5,.0009],[136,.0012],[138.5,.0010],[141,.0013],[143.5,.0009],[146,.0011],[148.5,.0012],[151,.0010],[153.5,.0013],[156,.0009],[158.5,.0011],[161,.0012],[163.5,.0010],[166,.0013],[168.5,.0009],[171,.0011],[173.5,.0012],[176,.0010],[178.5,.0013],[181,.0009],[183.5,.0011],[186,.0012],[188.5,.0010],[191,.0013],[193.5,.0009],[196,.0011],[198.5,.0012],[201,.0010],[203.5,.0013],[206,.0009],[208.5,.0011],[211,.0012],[213.5,.0010],[216,.0013],[218.5,.0009],[221,.0011],[223.5,.0012],[226,.0010],[228.5,.0013],[231,.0009],[233.5,.0011],[236,.0012],
[122,.0016],[124.5,.0018],[127,.0015],[129.5,.0019],[132,.0017],[134.5,.0015],[137,.0018],[139.5,.0016],[142,.0019],[144.5,.0015],[147,.0017],[149.5,.0018],[152,.0016],[154.5,.0019],[157,.0015],[159.5,.0017],[162,.0018],[164.5,.0016],[167,.0019],[169.5,.0015],[172,.0017],[174.5,.0018],[177,.0016],[179.5,.0019],[182,.0015],[184.5,.0017],[187,.0018],[189.5,.0016],[192,.0019],[194.5,.0015],[197,.0017],[199.5,.0018],[202,.0016],[204.5,.0019],[207,.0015],[209.5,.0017],[212,.0016],[215,.0015],[218,.0017],[221,.0014],[225,.0016],[229,.0015],
[104,.0020],[110,.0021],[117,.0022],[123,.0021],[128,.0022],[134,.0020],[139,.0021],[144,.0022],[149,.0020],[155,.0021],[160,.0022],[165,.0020],[171,.0021],[176,.0022],[182,.0020],[187,.0021],[192,.0022],[197,.0020],[205,.0020],[225.3,.0020],[232.8,.0019],[239.2,.0019],
[238,.0003],[241.5,.0004],[245,.0002],[248.5,.0003],[252,.0004],[255.5,.0002],[259,.0003],[262.5,.0004],[266,.0002],[269.5,.0003],[273,.0002],[276.5,.0003],[280,.0002],[284,.0003],
[239.5,.0008],[243,.0007],[246.5,.0009],[250,.0008],[253.5,.0007],[257,.0009],[260.5,.0008],[264,.0007],[267.5,.0008],[271,.0007],[274.5,.0008],[281,.0006],[289,.0010],
[241,.0013],[245,.0012],[249,.0014],[253,.0012],[256,.0013],[262.3,.0013],[266,.0012],
[312,.0006],[337,.0006]
]

// extra points filling the solid part of the bottom band
const lowDense = [
[121,.0002],[123.5,.0002],[126,.0001],[128.5,.0002],[131,.0003],[133.5,.0001],[136,.0002],[138.5,.0003],[141,.0001],[143.5,.0002],[146,.0003],[148.5,.0001],[151,.0002],[153.5,.0003],[156,.0001],[158.5,.0002],[161,.0003],[163.5,.0001],[166,.0002],[168.5,.0003],[171,.0001],[173.5,.0002],[176,.0003],[178.5,.0001],[181,.0002],[183.5,.0003],[186,.0001],[188.5,.0002],[191,.0003],[193.5,.0001],[196,.0002],[198.5,.0003],[201,.0001],[203.5,.0002],[206,.0003],[208.5,.0001],[211,.0002],[213.5,.0003],[216,.0001],[218.5,.0002],[221,.0003],[223.5,.0001],[226,.0002],[228.5,.0003],[231,.0001],[233.5,.0002],[236,.0003],[240,.0001],[244,.0002],[248,.0001],[252,.0002],[256,.0001],[260,.0002],[264,.0001],[268,.0002],[272,.0001],
[119.5,.0008],[122,.0007],[124.5,.0009],[127,.0008],[129.5,.0007],[132,.0009],[134.5,.0008],[137,.0007],[139.5,.0009],[142,.0008],[144.5,.0007],[147,.0009],[149.5,.0008],[152,.0007],[154.5,.0009],[157,.0008],[159.5,.0007],[162,.0009],[164.5,.0008],[167,.0007],[169.5,.0009],[172,.0008],[174.5,.0007],[177,.0009],[179.5,.0008],[182,.0007],[184.5,.0009],[187,.0008],[189.5,.0007],[192,.0009],[194.5,.0008],[197,.0007],[199.5,.0009],[202,.0008],[204.5,.0007],[207,.0009],[209.5,.0008],[212,.0007],[214.5,.0009],[217,.0008],[219.5,.0007],[222,.0009],[224.5,.0008],[227,.0007],[229.5,.0009],[232,.0008],[234.5,.0007],[237,.0005],[255,.0005],[262,.0005],[268,.0004],
[112,.0014],[118,.0013],[120.5,.0015],[123,.0014],[125.5,.0013],[128,.0015],[130.5,.0014],[133,.0013],[135.5,.0015],[138,.0014],[140.5,.0013],[143,.0015],[145.5,.0014],[148,.0013],[150.5,.0015],[153,.0014],[155.5,.0013],[158,.0015],[160.5,.0014],[163,.0013],[165.5,.0015],[168,.0014],[170.5,.0013],[173,.0015],[175.5,.0014],[178,.0013],[180.5,.0015],[183,.0014],[185.5,.0013],[188,.0015],[190.5,.0014],[193,.0013],[195.5,.0015],[198,.0014],[200.5,.0013],[203,.0015],[205.5,.0014],[208,.0013],[210.5,.0015],[213,.0014],[216.5,.0012],[219.5,.0014],[223,.0012],[227,.0014],[231,.0012],[235,.0013],
[107,.0021],[113,.0019],[120,.0020],[125.5,.0019],[131,.0020],[136.5,.0019],[141.5,.0020],[146.5,.0019],[152,.0020],[157.5,.0019],[162.5,.0020],[168,.0019],[173.5,.0020],[179,.0019],[184.5,.0020],[189.5,.0019],[194.5,.0020],[200,.0019],[210,.0019],[215,.0018],[220,.0019],
[121.5,.0004],[124,.0005],[126.5,.0003],[129,.0004],[131.5,.0005],[134,.0003],[136.5,.0004],[139,.0005],[141.5,.0003],[144,.0004],[146.5,.0005],[149,.0003],[151.5,.0004],[154,.0005],[156.5,.0003],[159,.0004],[161.5,.0005],[164,.0003],[166.5,.0004],[169,.0005],[171.5,.0003],[174,.0004],[176.5,.0005],[179,.0003],[181.5,.0004],[184,.0005],[186.5,.0003],[189,.0004],[191.5,.0005],[194,.0003],[196.5,.0004],[199,.0005],[201.5,.0003],[204,.0004],[206.5,.0005],[209,.0003],[211.5,.0004],[214,.0005],[216.5,.0003],[219,.0004],[221.5,.0005],[224,.0003],[226.5,.0004],[229,.0005],[231.5,.0003],[234,.0004],
[121.5,.0013],[124,.0012],[126.5,.0014],[129,.0013],[131.5,.0012],[134,.0014],[136.5,.0013],[139,.0012],[141.5,.0014],[144,.0013],[146.5,.0012],[149,.0014],[151.5,.0013],[154,.0012],[156.5,.0014],[159,.0013],[161.5,.0012],[164,.0014],[166.5,.0013],[169,.0012],[171.5,.0014],[174,.0013],[176.5,.0012],[179,.0014],[181.5,.0013],[184,.0012],[186.5,.0014],[189,.0013],[191.5,.0012],[194,.0014],[196.5,.0013],[199,.0012],[201.5,.0014],[204,.0013],[206.5,.0012],[209,.0014],[211.5,.0013],[214,.0012],[217.5,.0011],[221.5,.0010],[225.5,.0011],[229.5,.0010]
]

const circleStyle = { color: 'rgba(0,0,0,0)', borderColor: '#000', borderWidth: 1.8 }
const font = 'Liberation Sans, Arial, Helvetica, sans-serif'

function pointSeries (data) {
    return {
        type: 'scatter',
        data: data,
        symbol: 'circle',
        symbolSize: 7.8,
        itemStyle: circleStyle,
        silent: true,
        progressive: 0,
        z: 3
    }
}

const chart = echarts.init(document.getElementById('chart'), null, { renderer: 'canvas' })

const option = {
    animation: false,
    backgroundColor: '#fff',
    graphic: [{
        type: 'text',
        x: 677,
        y: 24,
        style: {
            text: '30 minute ahead prediction',
            fontFamily: font,
            fontSize: 34.5,
            fontWeight: 'bold',
            fill: '#000',
            align: 'center',
            verticalAlign: 'middle'
        }
    }],
    grid: {
        left: 113,
        right: 1,
        top: 50,
        bottom: 66,
        show: true,
        borderColor: '#bdbdbd',
        borderWidth: 1
    },
    xAxis: {
        type: 'value',
        min: -20,
        max: 419.5,
        name: 'Glucose (mg/dL)',
        nameLocation: 'middle',
        nameGap: 32,
        nameTextStyle: { fontFamily: font, fontSize: 31, fontWeight: 'bold', color: '#000' },
        axisLine: { show: true, onZero: false, lineStyle: { color: '#333', width: 2 } },
        axisTick: { show: false },
        splitLine: { show: false },
        axisLabel: {
            customValues: xTicks,
            fontFamily: font,
            fontSize: 18,
            fontWeight: 'bold',
            color: '#000',
            margin: 9
        }
    },
    yAxis: {
        type: 'value',
        min: -0.005,
        max: 0.1054,
        name: 'Predicted Probability of Hypoglycemia',
        nameLocation: 'middle',
        nameGap: 56,
        nameTextStyle: { fontFamily: font, fontSize: 31, fontWeight: 'bold', color: '#000' },
        axisLine: { show: true, onZero: false, lineStyle: { color: '#333', width: 2 } },
        axisTick: { show: false },
        splitLine: { show: false },
        axisLabel: {
            customValues: yTicks,
            formatter: v => v.toFixed(3),
            fontFamily: font,
            fontSize: 18,
            fontWeight: 'bold',
            color: '#000',
            margin: 12
        }
    },
    series: [
        {
            // panel grid lines, kept under the points
            type: 'scatter',
            data: [],
            silent: true,
            z: 1,
            markLine: {
                z: 1,
                silent: true,
                symbol: 'none',
                label: { show: false },
                lineStyle: { color: '#e6e6e6', width: 1.8, type: 'solid' },
                data: xTicks.map(v => ({ xAxis: v })).concat(yTicks.map(v => ({ yAxis: v })))
            }
        },
        pointSeries(highPoints.concat(highDense)),
        pointSeries(midPoints.concat(midDense, midSolid)),
        pointSeries(lowPoints.concat(lowDense)),
        {
            // threshold lines
            type: 'scatter',
            data: [],
            silent: true,
            z: 4,
            markLine: {
                z: 4,
                silent: true,
                symbol: 'none',
                label: { show: false },
                lineStyle: { color: '#000', width: 1.8, type: [7, 5] },
                data: [{ xAxis: glucoseCut }, { yAxis: probCut }]
            }
        },
        {
            type: 'scatter',
            silent: true,
            z: 5,
            symbolSize: 1,
            itemStyle: { color: 'rgba(0,0,0,0)' },
            data: quadText.map((t, i) => [quadX[i], quadY[i], t]),
            label: {
                show: true,
                position: 'inside',
                formatter: p => p.value[2],
                fontFamily: font,
                fontSize: 21,
                lineHeight: 31,
                color: '#000',
                align: 'center',
                verticalAlign: 'middle'
            }
        }
    ]
}

chart.setOption(option)
</script>
</body>
</html>
